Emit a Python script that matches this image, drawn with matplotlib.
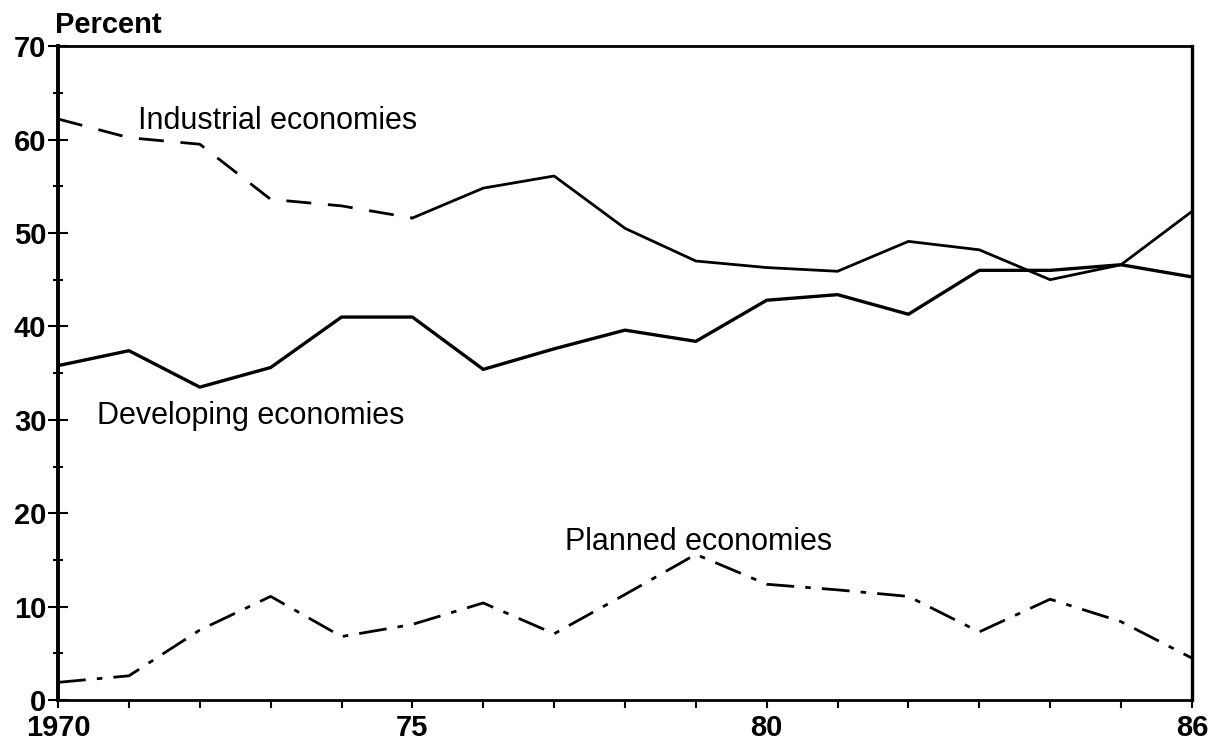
import numpy as np
import matplotlib
matplotlib.use("Agg")
import matplotlib.pyplot as plt
from matplotlib.ticker import MultipleLocator, FixedLocator

# Data (percent)
years = list(range(1970, 1987))
industrial = [62.2, 60.2, 59.5, 53.6, 52.9, 51.6, 54.8, 56.1, 50.5, 47.0,
              46.3, 45.9, 49.1, 48.2, 45.0, 46.6, 52.3]
developing = [35.8, 37.4, 33.5, 35.6, 41.0, 41.0, 35.4, 37.6, 39.6, 38.4,
              42.8, 43.4, 41.3, 46.0, 46.0, 46.6, 45.3]
planned = [1.9, 2.6, 7.5, 11.1, 6.8, 8.1, 10.4, 7.1, 11.3, 15.6,
           12.4, 11.8, 11.1, 7.3, 10.8, 8.4, 4.5]

x_labels = {1970: "1970", 1975: "75", 1980: "80", 1986: "86"}
y_ticks = [0, 10, 20, 30, 40, 50, 60, 70]

plt.rcParams['font.family'] = ['Liberation Sans', 'DejaVu Sans']

fig = plt.figure(figsize=(12.1, 7.44), dpi=100)
ax = fig.add_axes([0.048, 0.059, 0.937, 0.879])

# Industrial: dashed up to 1975, solid afterwards
split = years.index(1975)
ax.plot(years[:split + 1], industrial[:split + 1], color='black', lw=2.0,
        dashes=(9, 6))
ax.plot(years[split:], industrial[split:], color='black', lw=2.0)
ax.plot(years, developing, color='black', lw=2.4)
ax.plot(years, planned, color='black', lw=2.0, dashes=(10, 4, 2, 4))

ax.set_xlim(1970, 1986)
ax.set_ylim(0, 70)

# Axis ticks
ax.xaxis.set_major_locator(FixedLocator(list(x_labels.keys())))
ax.set_xticklabels(list(x_labels.values()))
ax.xaxis.set_minor_locator(MultipleLocator(1))
ax.set_yticks(y_ticks)
ax.yaxis.set_minor_locator(MultipleLocator(5))

ax.tick_params(axis='x', which='both', direction='out', length=6, width=1.5,
               labelsize=21, pad=4)
ax.tick_params(axis='y', which='major', direction='inout', length=15, width=1.5,
               labelsize=21, pad=1)
ax.tick_params(axis='y', which='minor', direction='inout', length=7, width=1.5)
for lab in ax.get_xticklabels() + ax.get_yticklabels():
    lab.set_fontweight('bold')

for side, w in [('left', 2.8), ('bottom', 2.0), ('top', 2.0), ('right', 2.4)]:
    ax.spines[side].set_linewidth(w)

# Series labels
ax.text(1971.13, 61.1, "Industrial economies", fontsize=22, va='baseline')
ax.text(1970.55, 29.6, "Developing economies", fontsize=22, va='baseline')
ax.text(1977.15, 16.1, "Planned economies", fontsize=22, va='baseline')
ax.text(1969.96, 71.4, "Percent", fontsize=21, fontweight='bold',
        va='baseline', clip_on=False)

fig.savefig("out.png", dpi=100)
